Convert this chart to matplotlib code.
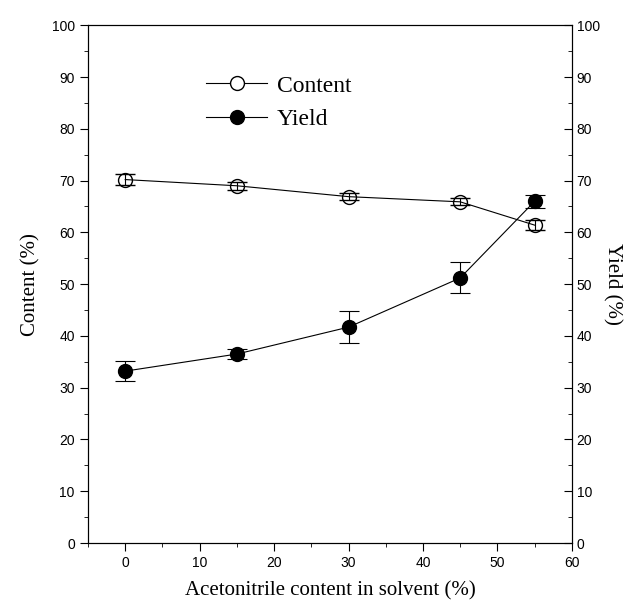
import matplotlib.pyplot as plt
from matplotlib.lines import Line2D
from matplotlib.ticker import MultipleLocator

# data
acetonitrile = [0, 15, 30, 45, 55]
content = [70.2, 69.0, 66.9, 65.9, 61.4]
content_err = [1.0, 0.8, 0.7, 0.7, 1.0]
yield_ = [33.2, 36.5, 41.7, 51.2, 66.0]
yield_err = [2.0, 0.9, 3.1, 3.0, 1.3]

plt.rcParams["font.family"] = "Liberation Sans"
serif = "Liberation Serif"

fig = plt.figure(figsize=(6.3, 6.12), dpi=100)
ax = fig.add_axes([0.1397, 0.1127, 0.768, 0.846])
ax2 = ax.twinx()

ax.errorbar(acetonitrile, content, yerr=content_err, color="black", lw=0.8,
            marker="o", ms=10, mfc="none", mec="black", mew=1.0,
            capsize=7, elinewidth=0.8, capthick=0.8)
ax2.errorbar(acetonitrile, yield_, yerr=yield_err, color="black", lw=0.8,
             marker="o", ms=10, mfc="black", mec="black",
             capsize=7, elinewidth=0.8, capthick=0.8)

for a in (ax, ax2):
    a.set_xlim(-5, 60)
    a.set_ylim(0, 100)
    a.yaxis.set_major_locator(MultipleLocator(10))
    a.yaxis.set_minor_locator(MultipleLocator(5))
ax.xaxis.set_major_locator(MultipleLocator(10))
ax.xaxis.set_minor_locator(MultipleLocator(5))

ax.tick_params(axis="both", which="major", direction="out", length=6, labelsize=10)
ax.tick_params(axis="both", which="minor", direction="out", length=3)
ax.tick_params(top=False, which="both")
ax2.tick_params(axis="y", which="major", direction="in", length=6, labelsize=10)
ax2.tick_params(axis="y", which="minor", direction="in", length=3)

ax.set_xlabel("Acetonitrile content in solvent (%)", family=serif, fontsize=15, labelpad=8)
ax.set_ylabel("Content (%)", family=serif, fontsize=15, labelpad=8)
ax2.set_ylabel("Yield (%)", family=serif, fontsize=15, rotation=270, labelpad=16)

handles = [
    Line2D([], [], color="black", lw=0.8, marker="o", ms=10, mfc="white", mec="black"),
    Line2D([], [], color="black", lw=0.8, marker="o", ms=10, mfc="black", mec="black"),
]
ax2.legend(handles, ["Content", "Yield"], loc="upper left", bbox_to_anchor=(0.2, 0.945),
           frameon=False, prop={"family": serif, "size": 17},
           handlelength=2.6, handletextpad=0.4, labelspacing=0.5)

fig.savefig("out.png", dpi=100)
